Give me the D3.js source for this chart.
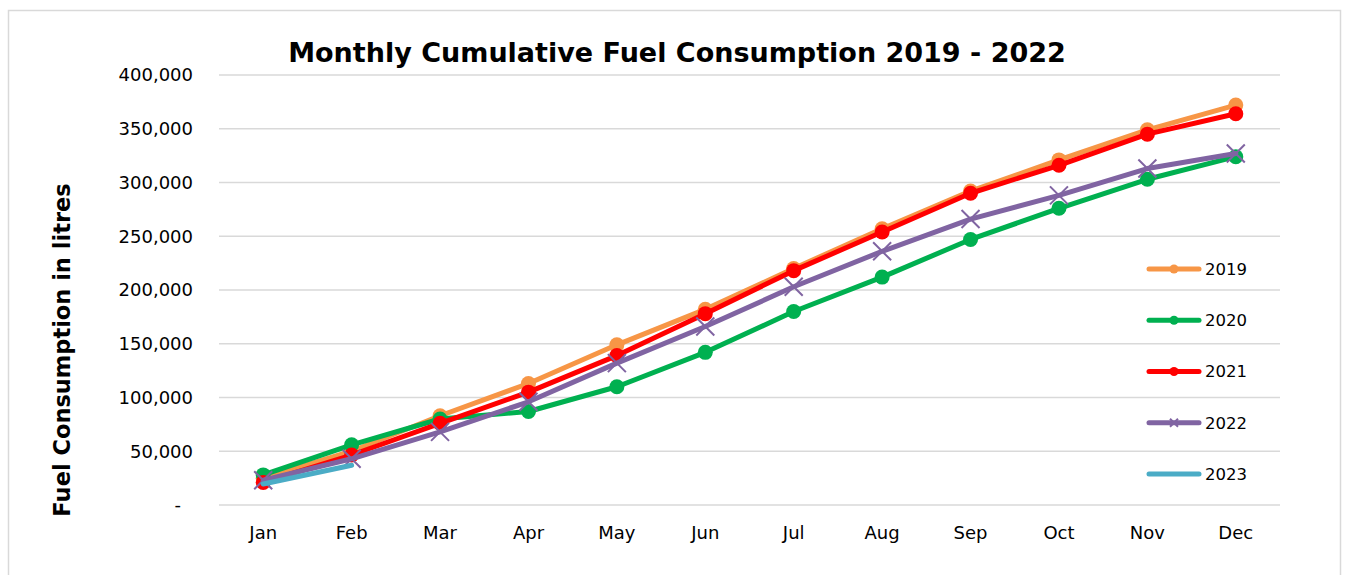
<!DOCTYPE html>
<html>
<head>
<meta charset="utf-8">
<script src="https://cdn.jsdelivr.net/npm/d3@7"></script>
<style>
  body { margin: 0; background: #fff; }
  svg text { font-family: "DejaVu Sans", sans-serif; fill: #000; }
</style>
</head>
<body>
<svg width="1348" height="575"></svg>
<script>
let months = ['Jan', 'Feb', 'Mar', 'Apr', 'May', 'Jun', 'Jul', 'Aug', 'Sep', 'Oct', 'Nov', 'Dec']
let yTicks = [0, 50000, 100000, 150000, 200000, 250000, 300000, 350000, 400000]

let fuel2019 = [25000, 50000, 83000, 113000, 149000, 182000, 220000, 257000, 292000, 321000, 349000, 372000]
let fuel2020 = [28000, 56000, 80000, 87000, 110000, 142000, 180000, 212000, 247000, 276000, 303000, 324000]
let fuel2021 = [21000, 46500, 76000, 105000, 139000, 178000, 218000, 254000, 290000, 316000, 345000, 364000]
let fuel2022 = [23000, 43000, 68000, 96000, 132000, 166000, 203000, 236000, 266000, 288000, 313000, 327000]
let fuel2023 = [19500, 37000]

let series = [
    {name: '2019', values: fuel2019, color: '#F79646', marker: 'circle'},
    {name: '2020', values: fuel2020, color: '#00B050', marker: 'circle'},
    {name: '2021', values: fuel2021, color: '#FF0000', marker: 'circle'},
    {name: '2022', values: fuel2022, color: '#8064A2', marker: 'x'},
    {name: '2023', values: fuel2023, color: '#4BACC6', marker: 'none'}
]

let plotLeft = 219
let plotRight = 1280
let plotTop = 75
let plotBottom = 505

let svg = d3.select('svg')

// chart frame
svg.append('rect')
   .attr('x', 8.5).attr('y', 10.5)
   .attr('width', 1332).attr('height', 580)
   .attr('fill', 'none')
   .attr('stroke', '#d9d9d9')
   .attr('stroke-width', 1.5)

let xScale = d3.scaleBand()
               .domain(months)
               .range([plotLeft, plotRight])

let yScale = d3.scaleLinear()
               .domain([0, 400000])
               .range([plotBottom, plotTop])

let xPos = (i) => xScale(months[i]) + xScale.bandwidth() / 2

// gridlines
svg.append('g')
   .selectAll('line')
   .data(yTicks)
   .enter()
   .append('line')
   .attr('x1', plotLeft).attr('x2', plotRight)
   .attr('y1', (d) => yScale(d)).attr('y2', (d) => yScale(d))
   .attr('stroke', '#d9d9d9')
   .attr('stroke-width', 1.5)

// y axis labels
let yAxis = d3.axisLeft(yScale)
              .tickValues(yTicks)
              .tickSize(0)
              .tickPadding(0)
              .tickFormat((d) => d === 0 ? '-' : d3.format(',')(d))

let yG = svg.append('g')
   .attr('transform', 'translate(' + 193 + ',0)')
   .call(yAxis)
yG.select('.domain').remove()
yG.selectAll('text')
  .style('font-size', '18px')
  .style('font-family', '"DejaVu Sans", sans-serif')
  .attr('fill', '#000')
yG.selectAll('.tick').filter((d) => d === 0).select('text').attr('dx', -12)

// x axis labels
let xAxis = d3.axisBottom(xScale)
              .tickSize(0)
              .tickPadding(21)

let xG = svg.append('g')
   .attr('transform', 'translate(0,' + plotBottom + ')')
   .call(xAxis)
xG.select('.domain').remove()
xG.selectAll('text')
  .style('font-size', '18px')
  .style('font-family', '"DejaVu Sans", sans-serif')
  .attr('fill', '#000')

// lines
let line = d3.line()
             .x((d, i) => xPos(i))
             .y((d) => yScale(d))

series.forEach((s) => {
    svg.append('path')
       .datum(s.values)
       .attr('d', line)
       .attr('fill', 'none')
       .attr('stroke', s.color)
       .attr('stroke-width', 5)
       .attr('stroke-linejoin', 'round')
       .attr('stroke-linecap', 'round')

    if (s.marker === 'circle') {
        svg.append('g')
           .selectAll('circle')
           .data(s.values)
           .enter()
           .append('circle')
           .attr('cx', (d, i) => xPos(i))
           .attr('cy', (d) => yScale(d))
           .attr('r', 7.5)
           .attr('fill', s.color)
    } else if (s.marker === 'x') {
        let k = 9
        svg.append('g')
           .selectAll('path')
           .data(s.values)
           .enter()
           .append('path')
           .attr('d', (d, i) => {
               let x = xPos(i), y = yScale(d)
               return 'M' + (x - k) + ',' + (y - k) + 'L' + (x + k) + ',' + (y + k) +
                      'M' + (x - k) + ',' + (y + k) + 'L' + (x + k) + ',' + (y - k)
           })
           .attr('stroke', s.color)
           .attr('stroke-width', 2)
    }
})

// legend
let legend = svg.append('g')
let legendY = d3.scalePoint().domain(series.map((s) => s.name)).range([269, 474])

series.forEach((s) => {
    let y = legendY(s.name)
    let g = legend.append('g')
    g.append('line')
     .attr('x1', 1149).attr('x2', 1199)
     .attr('y1', y).attr('y2', y)
     .attr('stroke', s.color)
     .attr('stroke-width', 5)
     .attr('stroke-linecap', 'round')
    if (s.marker === 'circle') {
        g.append('circle').attr('cx', 1174).attr('cy', y).attr('r', 4.5).attr('fill', s.color)
    } else if (s.marker === 'x') {
        g.append('path')
         .attr('d', 'M1170,' + (y - 4) + 'L1178,' + (y + 4) + 'M1170,' + (y + 4) + 'L1178,' + (y - 4))
         .attr('stroke', s.color).attr('stroke-width', 2)
    }
    g.append('text')
     .attr('x', 1205).attr('y', y)
     .attr('dy', '0.35em')
     .style('font-size', '16.5px')
     .text(s.name)
})

// titles
svg.append('text')
   .attr('x', 677).attr('y', 62)
   .attr('text-anchor', 'middle')
   .style('font-size', '27px')
   .style('font-weight', 'bold')
   .text('Monthly Cumulative Fuel Consumption 2019 - 2022')

svg.append('text')
   .attr('transform', 'translate(70,350) rotate(-90)')
   .attr('text-anchor', 'middle')
   .style('font-size', '22.5px')
   .style('font-weight', 'bold')
   .text('Fuel Consumption in litres')
</script>
</body>
</html>
